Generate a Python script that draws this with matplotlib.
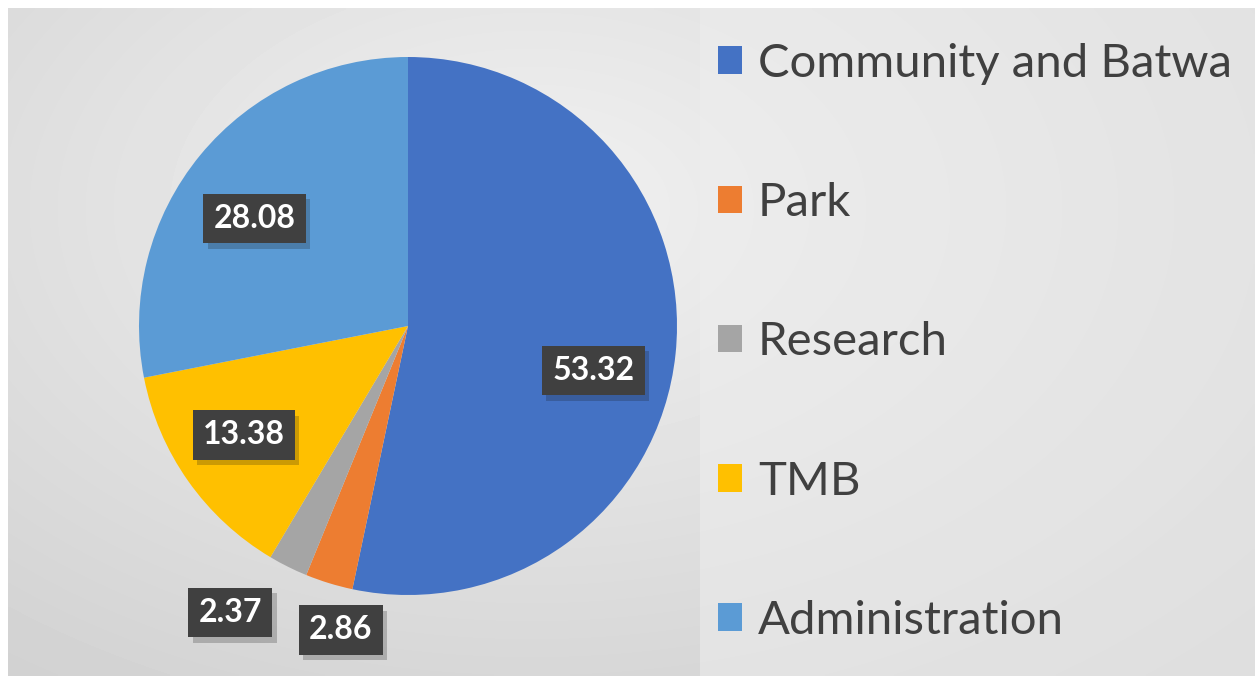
import numpy as np
import matplotlib
matplotlib.use("Agg")
import matplotlib.pyplot as plt
from matplotlib.patches import Patch, Rectangle
import matplotlib.patheffects as pe

# ---- data ----
categories = ["Community and Batwa", "Park", "Research", "TMB", "Administration"]
values = [53.32, 2.86, 2.37, 13.38, 28.08]
value_labels = ["53.32", "2.86", "2.37", "13.38", "28.08"]
colors = ["#4472C4", "#ED7D31", "#A5A5A5", "#FFC000", "#5B9BD5"]

# ---- layout ----
W, H = 1259, 676
fig = plt.figure(figsize=(W / 100, H / 100), dpi=100)
fig.patch.set_facecolor("white")
ax = fig.add_axes([0, 0, 1, 1])

# gray gradient background
gx0, gx1, gy0, gy1 = 8, 1255, 0, 668
nx, ny = 400, 220
xs = np.linspace(0, 1, nx)
ys = np.linspace(0, 1, ny)
X, Y = np.meshgrid(xs, ys)
d = np.sqrt(((X - 0.42) / 0.75) ** 2 + ((Y - 0.3) / 0.9) ** 2)
bg = 0.945 - 0.13 * np.clip(d, 0, 1.3)
ax.imshow(bg, cmap="gray", vmin=0, vmax=1, extent=(gx0, gx1, gy0, gy1),
          origin="upper", aspect="auto", zorder=0, interpolation="bilinear")
# lighter legend panel
ax.add_patch(Rectangle((700, gy0), 555, gy1 - gy0, facecolor="#eeeeee",
                       edgecolor="none", alpha=0.55, zorder=1))

cx, cy, r = 408, H - 326, 269
wedges, _ = ax.pie(values, colors=colors, startangle=90, counterclock=False,
                   center=(cx, cy), radius=r, frame=True,
                   wedgeprops=dict(linewidth=0, zorder=2))
for w in wedges:
    w.set_zorder(2)

# data label positions relative to pie (in radius units)
label_offsets = [(0.69, -0.165), (-0.25, -1.13), (-0.66, -1.065),
                 (-0.61, -0.405), (-0.57, 0.40)]
for lab, (ox, oy) in zip(value_labels, label_offsets):
    t = ax.text(cx + ox * r, cy + oy * r, lab, ha="center", va="center",
                fontsize=23, fontweight="bold", family="Lato", color="white",
                zorder=5,
                bbox=dict(boxstyle="square,pad=0.32", facecolor="#404040",
                          edgecolor="none"))
    t.get_bbox_patch().set_path_effects(
        [pe.SimplePatchShadow(offset=(3, -4), alpha=0.22), pe.Normal()])

ax.set_xlim(0, W)
ax.set_ylim(0, H)
ax.set_aspect("auto")
ax.axis("off")

handles = [Patch(facecolor=c, edgecolor="none") for c in colors]
leg = ax.legend(handles, categories, loc="upper left",
                bbox_to_anchor=(699 / W, 1 - 24 / H), bbox_transform=fig.transFigure,
                frameon=False, prop=dict(family="Lato", size=34),
                labelcolor="#404040", handlelength=0.52, handleheight=0.52,
                handletextpad=0.33, labelspacing=2.06, borderaxespad=0)
leg.set_zorder(6)

fig.savefig("out.png", dpi=100, facecolor="white")
